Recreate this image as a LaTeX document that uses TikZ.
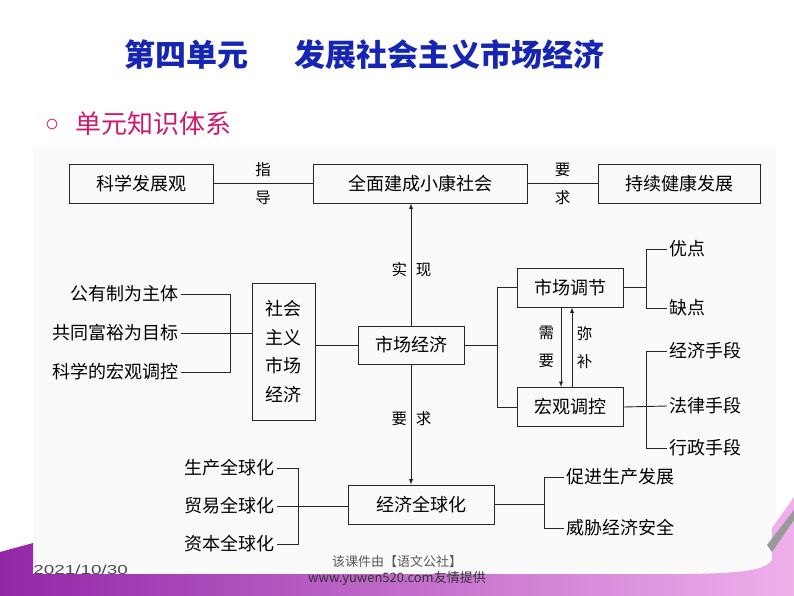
\documentclass[tikz,border=0pt]{standalone}
\usepackage{fontspec}
\setmainfont{Noto Sans CJK SC}
\newfontfamily\datefont{Liberation Sans}
\definecolor{titleblue}{RGB}{22,38,178}
\definecolor{subpink}{RGB}{204,26,110}
\definecolor{bandpurple}{RGB}{146,38,168}
\definecolor{bandpink}{RGB}{240,176,236}

\begin{document}
\begin{tikzpicture}[x=1pt,y=-1pt,>=latex,line width=0.9pt,
  box/.style={draw=black!85,minimum width=#1,minimum height=39pt,inner sep=0pt,font=\fontsize{18}{20}\selectfont},
  box/.default=100pt,
  item/.style={inner sep=2pt,font=\fontsize{18}{20}\selectfont},
  lab/.style={inner sep=0pt,align=center,font=\fontsize{15.5}{28}\selectfont},
  wire/.style={draw=black!85}]
\useasboundingbox (0,0) rectangle (794,596);
% --- slide background ---
\fill[black!2] (33,147) rectangle (776,575);
\shade[left color=bandpurple,right color=bandpink] (0,552) -- (33,543) -- (33,574) -- (690,574)
  .. controls (740,573) and (765,571) .. (772,560) -- (772,528) -- (794,497) -- (794,596) -- (0,596) -- cycle;
\fill[black!40] (767,545) -- (794,510) -- (794,520) -- (772,552) -- cycle;
% --- headings ---
\node[anchor=west,inner sep=0pt,text=titleblue,font=\fontsize{31}{34}\selectfont\bfseries] (title) at (124,55)
  {第四单元\hspace{46pt}发展社会主义市场经济};
\node[circle,draw=subpink,line width=0.8pt,minimum size=10pt,inner sep=0pt] (dot) at (52,124) {};
\node[anchor=west,inner sep=0pt,text=subpink,font=\fontsize{26}{28}\selectfont] (sub) at (75,124) {单元知识体系};
% --- boxes ---
\node[box=144pt] (kxfzg) at (141,183.5) {科学发展观};
\node[box=214pt] (xksh)  at (420,183.5) {全面建成小康社会};
\node[box=162pt] (cxjk)  at (679,183.5) {持续健康发展};
\node[box=63pt,minimum height=137pt,align=center,font=\fontsize{18}{28.5}\selectfont] (shzy) at (283.5,351.5) {社会\\主义\\市场\\经济};
\node[box=106pt,minimum height=38pt] (scjj) at (411,345) {市场经济};
\node[box=106pt] (sctj) at (570,287.5) {市场调节};
\node[box=106pt] (hgtk) at (570,407) {宏观调控};
\node[box=146pt] (jjqqh) at (421,504.5) {经济全球化};
% --- leaves ---
\node[item,anchor=east] (gyz)  at (181,294) {公有制为主体};
\node[item,anchor=east] (gtfy) at (181,333) {共同富裕为目标};
\node[item,anchor=east] (kxhg) at (181,372) {科学的宏观调控};
\node[item,anchor=west] (yd)   at (667,249) {优点};
\node[item,anchor=west] (qd)   at (667,308) {缺点};
\node[item,anchor=west] (jjsd) at (667,351) {经济手段};
\node[item,anchor=west] (flsd) at (667,406) {法律手段};
\node[item,anchor=west] (xzsd) at (667,448) {行政手段};
\node[item,anchor=east] (scqq) at (277,468) {生产全球化};
\node[item,anchor=east] (myqq) at (277,506) {贸易全球化};
\node[item,anchor=east] (zbqq) at (277,544) {资本全球化};
\node[item,anchor=west] (cjsc) at (564,477) {促进生产发展};
\node[item,anchor=west] (wxaq) at (564,528) {威胁经济安全};
% --- bracket joints ---
\coordinate (jl) at (230,333);
\coordinate (jm) at (497,345);
\coordinate (jt) at (646,287.5);
\coordinate (jh) at (646,407);
\coordinate (jg) at (298,506);
\coordinate (jr) at (544,504.5);
% --- top row ---
\draw[wire] (kxfzg) -- (xksh) node[lab,midway]{指\\导};
\draw[wire] (xksh) -- (cxjk) node[lab,midway]{要\\求};
\draw[wire,->] (scjj.north) -- (scjj.north |- xksh.south)
  node[lab,pos=0.455,left=3.5pt]{实} node[lab,pos=0.455,right=4.5pt]{现};
% --- socialist market economy ---
\draw[wire] (gyz.east) -| (jl);
\draw[wire] (kxhg.east) -| (jl);
\draw[wire] (gtfy.east) -- (gtfy.east -| shzy.west);
\draw[wire] (shzy.east |- scjj.west) -- (scjj.west);
\draw[wire] (scjj.east) -- (jm);
\draw[wire] (sctj.west) -| (jm);
\draw[wire] (hgtk.west) -| (jm);
\draw[wire,->] ([xshift=-9pt]sctj.south) -- ([xshift=-9pt]hgtk.north) node[lab,midway,left=6.5pt]{需\\要};
\draw[wire,->] ([xshift=2pt]hgtk.north) -- ([xshift=2pt]sctj.south) node[lab,midway,right=4.5pt]{弥\\补};
\draw[wire] (sctj.east) -- (jt);
\draw[wire] (yd.west) -| (jt);
\draw[wire] (qd.west) -| (jt);
\draw[wire] (hgtk.east) -- (flsd.west);
\draw[wire] (jjsd.west) -| (jh);
\draw[wire] (xzsd.west) -| (jh);
% --- globalization ---
\draw[wire,->] (scjj.south) -- (scjj.south |- jjqqh.north)
  node[lab,pos=0.455,left=3.5pt]{要} node[lab,pos=0.455,right=4.5pt]{求};
\draw[wire] (scqq.east) -| (jg);
\draw[wire] (zbqq.east) -| (jg);
\draw[wire] (myqq.east) -- (myqq.east -| jjqqh.west);
\draw[wire] (jjqqh.east) -- (jr);
\draw[wire] (cjsc.west) -| (jr);
\draw[wire] (wxaq.west) -| (jr);
% --- footer ---
\node[anchor=west,inner sep=0pt,text=black!70,font=\datefont\fontsize{13}{15}\selectfont] (date) at (33,570) {\scalebox{1.45}[1]{2021/10/30}};
\node[inner sep=0pt,text=black!65,font=\fontsize{13}{14}\selectfont] (src) at (397,562) {该课件由【语文公社】};
\node[inner sep=0pt,text=black!80,font=\fontsize{13}{14}\selectfont] (web) at (397,579) {www.yuwen520.com友情提供};
\end{tikzpicture}
\end{document}
